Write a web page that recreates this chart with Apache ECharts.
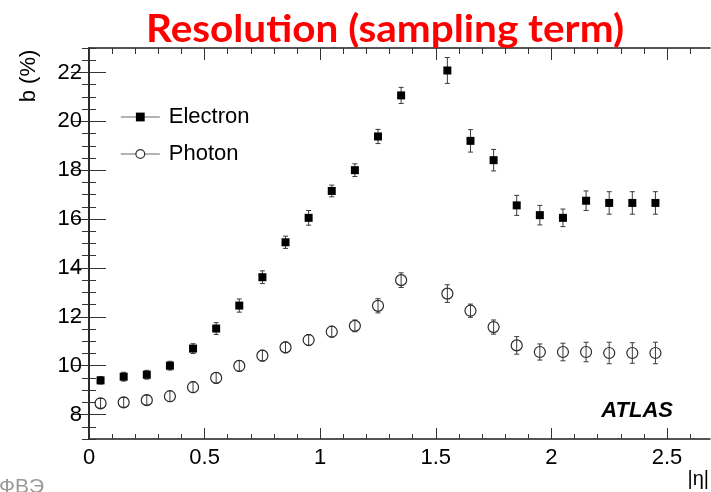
<!DOCTYPE html>
<html>
<head>
<meta charset="utf-8">
<script src="https://cdn.jsdelivr.net/npm/echarts@6/dist/echarts.min.js"></script>
<style>
  html, body { margin: 0; padding: 0; background: #fff; }
  #chart { width: 711px; height: 492px; }
</style>
</head>
<body>
<div id="chart"></div>
<script>
// |eta| bin centres (no point in the 1.37-1.52 crack bin)
const eta = [0.05, 0.15, 0.25, 0.35, 0.45, 0.55, 0.65, 0.75, 0.85, 0.95, 1.05, 1.15,
             1.25, 1.35, 1.55, 1.65, 1.75, 1.85, 1.95, 2.05, 2.15, 2.25, 2.35, 2.45];

// sampling term b (%) and its uncertainty
const electronB   = [9.40, 9.55, 9.63, 10.00, 10.70, 11.52, 12.46, 13.62, 15.05, 16.05, 17.15, 18.00,
                     19.38, 21.06, 22.08, 19.20, 18.41, 16.56, 16.16, 16.05, 16.75, 16.66, 16.66, 16.66];
const electronErr = [0.15, 0.18, 0.18, 0.18, 0.20, 0.24, 0.27, 0.26, 0.25, 0.30, 0.24, 0.26,
                     0.29, 0.33, 0.53, 0.46, 0.44, 0.41, 0.40, 0.36, 0.40, 0.46, 0.46, 0.46];

const photonB     = [8.46, 8.50, 8.59, 8.75, 9.12, 9.50, 9.99, 10.41, 10.75, 11.05, 11.39, 11.63,
                     12.45, 13.50, 12.95, 12.25, 11.58, 10.83, 10.56, 10.56, 10.56, 10.52, 10.52, 10.52];
const photonErr   = [0.20, 0.20, 0.20, 0.22, 0.22, 0.22, 0.22, 0.22, 0.22, 0.22, 0.22, 0.24,
                     0.29, 0.30, 0.36, 0.27, 0.29, 0.36, 0.33, 0.36, 0.40, 0.44, 0.42, 0.44];

// axis tick labels
const xTickLabels = [0, 0.5, 1, 1.5, 2, 2.5];
const yTickLabels = [8, 10, 12, 14, 16, 18, 20, 22];

const X_MIN = 0, X_MAX = 2.686;
const Y_MIN = 7, Y_MAX = 23;

// minor tick positions: every 0.1 in |eta|, every 0.5 in b
const xMinor = [];
for (let i = 0; i <= 26; i++) xMinor.push(+(i / 10).toFixed(1));
const yMinor = [];
for (let v = Y_MIN * 2; v <= Y_MAX * 2; v++) yMinor.push(v / 2);

const FONT = '"Liberation Sans", Arial, Helvetica, sans-serif';
const AXIS_COLOR = '#1e1e1e';
const TICK_COLOR = '#333';

function xAxis(position, ticks, len, withLabels, withLine) {
  return {
    type: 'value', position: position, min: X_MIN, max: X_MAX,
    axisLine: { show: withLine, lineStyle: { color: AXIS_COLOR, width: 1.5 } },
    axisTick: { show: true, inside: true, length: len, customValues: ticks,
                lineStyle: { color: TICK_COLOR, width: 1 } },
    axisLabel: withLabels
      ? { show: true, customValues: ticks, fontSize: 22, color: '#000', fontFamily: FONT, margin: 8 }
      : { show: false },
    splitLine: { show: false }
  };
}

function yAxis(position, ticks, len, withLabels, withLine) {
  return {
    type: 'value', position: position, min: Y_MIN, max: Y_MAX,
    axisLine: { show: withLine, lineStyle: { color: AXIS_COLOR, width: 1.5 } },
    axisTick: { show: true, inside: true, length: len, customValues: ticks,
                lineStyle: { color: TICK_COLOR, width: 1 } },
    axisLabel: withLabels
      ? { show: true, customValues: ticks, fontSize: 22, color: '#000', fontFamily: FONT, margin: 7 }
      : { show: false },
    splitLine: { show: false }
  };
}

// vertical error bar with short caps
function errorBar(params, api) {
  const x = api.value(0);
  const lo = api.coord([x, api.value(1)]);
  const hi = api.coord([x, api.value(2)]);
  const cap = 2.5;
  const style = { stroke: '#3a3a3a', lineWidth: 1 };
  return {
    type: 'group',
    children: [
      { type: 'line', shape: { x1: lo[0], y1: lo[1], x2: hi[0], y2: hi[1] }, style: style },
      { type: 'line', shape: { x1: lo[0] - cap, y1: lo[1], x2: lo[0] + cap, y2: lo[1] }, style: style },
      { type: 'line', shape: { x1: hi[0] - cap, y1: hi[1], x2: hi[0] + cap, y2: hi[1] }, style: style }
    ]
  };
}

const electronPts = eta.map((x, i) => [x, electronB[i]]);
const photonPts = eta.map((x, i) => [x, photonB[i]]);
const electronBars = eta.map((x, i) => [x, electronB[i] - electronErr[i], electronB[i] + electronErr[i]]);
const photonBars = eta.map((x, i) => [x, photonB[i] - photonErr[i], photonB[i] + photonErr[i]]);

const chart = echarts.init(document.getElementById('chart'), null, { renderer: 'canvas' });

chart.setOption({
  animation: false,
  backgroundColor: '#fff',
  grid: { left: 89, right: 1, top: 48, bottom: 53, containLabel: false },
  xAxis: [
    xAxis('bottom', xTickLabels, 11, true, true),
    xAxis('bottom', xMinor, 5, false, false),
    xAxis('top', xTickLabels, 12, false, true),
    xAxis('top', xMinor, 6, false, false)
  ],
  yAxis: [
    yAxis('left', yTickLabels, 17, true, true),
    yAxis('left', yMinor, 7, false, false),
    yAxis('right', yTickLabels, 18, false, true),
    yAxis('right', yMinor, 7, false, false)
  ],
  legend: {
    orient: 'vertical',
    left: 120, top: 102, padding: 0,
    itemWidth: 39, itemHeight: 11, itemGap: 7,
    textStyle: { fontSize: 22, fontFamily: FONT, color: '#000', lineHeight: 26, padding: [4, 0, 0, 4] },
    lineStyle: { color: '#9a9a9a', width: 1.6, opacity: 1 },
    data: [
      { name: 'Electron', itemStyle: { color: '#000' } },
      { name: 'Photon', itemStyle: { color: '#fff', borderColor: '#333', borderWidth: 1.2 } }
    ],
    selectedMode: false
  },
  series: [
    {
      name: 'electron-err', type: 'custom', renderItem: errorBar,
      xAxisIndex: 0, yAxisIndex: 0, encode: { x: 0, y: [1, 2] },
      data: electronBars, z: 2, silent: true
    },
    {
      name: 'Electron', type: 'line', xAxisIndex: 0, yAxisIndex: 0,
      data: electronPts, symbol: 'rect', symbolSize: 8,
      itemStyle: { color: '#000' },
      lineStyle: { opacity: 0 },
      z: 3, silent: true
    },
    {
      name: 'photon-err', type: 'custom', renderItem: errorBar,
      xAxisIndex: 0, yAxisIndex: 0, encode: { x: 0, y: [1, 2] },
      data: photonBars, z: 2, silent: true
    },
    {
      name: 'Photon', type: 'line', xAxisIndex: 0, yAxisIndex: 0,
      data: photonPts, symbol: 'circle', symbolSize: 11,
      itemStyle: { color: 'rgba(255,255,255,0)', borderColor: '#2a2a2a', borderWidth: 1.2 },
      lineStyle: { opacity: 0 },
      z: 3, silent: true
    }
  ],
  graphic: [
    {
      type: 'text', x: 385, y: 30, z: 10, scaleX: 1.065,
      style: { text: 'Resolution (sampling term)', font: 'bold 38px Lato, "Open Sans", sans-serif',
               fill: '#ff0000', align: 'center', verticalAlign: 'middle',
               textAlign: 'center', textVerticalAlign: 'middle' }
    },
    {
      type: 'text', x: 29, y: 76, rotation: Math.PI / 2,
      style: { text: 'b (%)', font: '22px ' + FONT, fill: '#000',
               align: 'center', verticalAlign: 'middle', textAlign: 'center', textVerticalAlign: 'middle' }
    },
    {
      type: 'text', x: 709, y: 479,
      style: { text: '|η|', font: '20px ' + FONT, fill: '#000',
               align: 'right', verticalAlign: 'middle', textAlign: 'right', textVerticalAlign: 'middle' }
    },
    {
      type: 'text', x: 673, y: 411,
      style: { text: 'ATLAS', font: 'italic bold 22px ' + FONT, fill: '#000',
               align: 'right', verticalAlign: 'middle', textAlign: 'right', textVerticalAlign: 'middle' }
    },
    {
      type: 'text', x: -1, y: 477,
      style: { text: 'ФВЭ', font: '21px ' + FONT, fill: '#9a9a9a',
               align: 'left', verticalAlign: 'top', textAlign: 'left', textVerticalAlign: 'top' }
    }
  ]
});
</script>
</body>
</html>
